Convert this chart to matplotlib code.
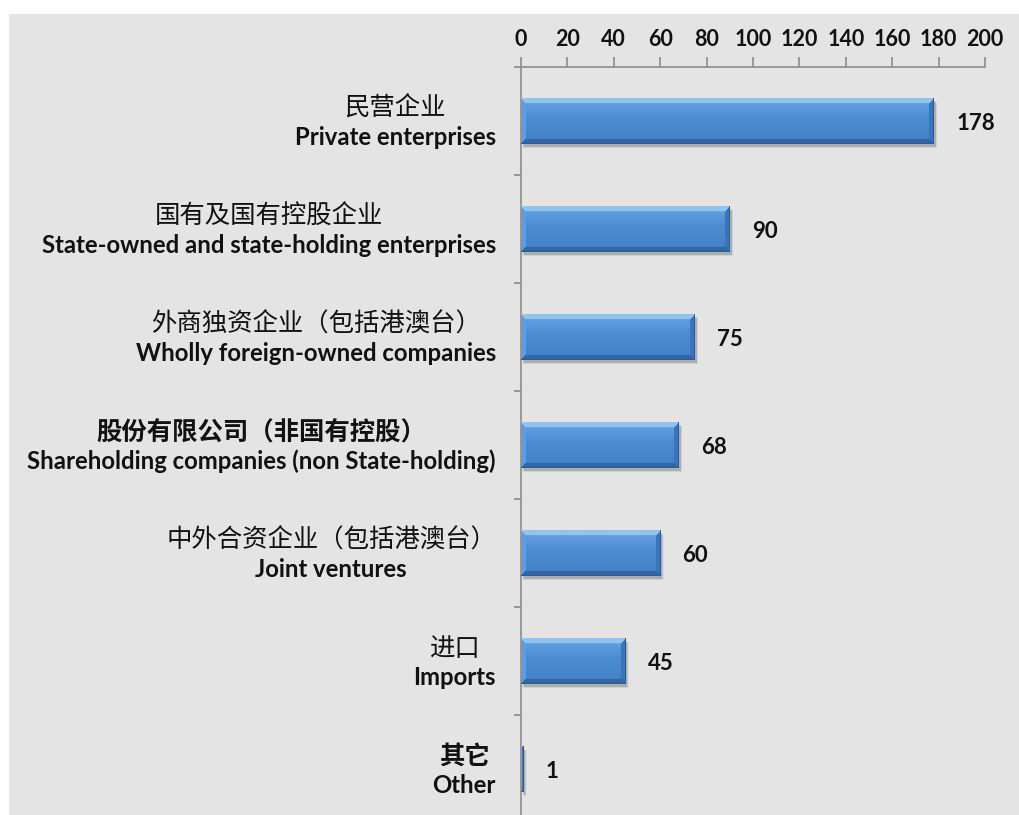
import numpy as np
import matplotlib.pyplot as plt
from matplotlib.patches import Rectangle
from matplotlib.transforms import offset_copy

# Category labels (Chinese / English) and values
labels_cn = ['民营企业', '国有及国有控股企业', '外商独资企业（包括港澳台）',
             '股份有限公司（非国有控股）', '中外合资企业（包括港澳台）', '进口', '其它']
labels_en = ['Private enterprises', 'State-owned and state-holding enterprises',
             'Wholly foreign-owned companies', 'Shareholding companies (non State-holding)',
             'Joint ventures', 'Imports', 'Other']
cn_bold = [False, False, False, True, False, False, True]
values = [178, 90, 75, 68, 60, 45, 1]
xticks = [0, 20, 40, 60, 80, 100, 120, 140, 160, 180, 200]

W, H, DPI = 1020, 815, 100
fig = plt.figure(figsize=(W / DPI, H / DPI), dpi=DPI)
fig.patch.set_facecolor('white')
fig.add_artist(Rectangle((9 / W, 0), 1 - 9 / W, 1 - 14 / H, transform=fig.transFigure,
                         facecolor='#e4e4e4', edgecolor='none', zorder=-10))

ax = fig.add_axes([521 / W, 1 - 823 / H, 464 / W, (823 - 67) / H])
ax.set_facecolor('none')

ypos = np.arange(len(values))
bar_h = 0.42
bars = ax.barh(ypos, values, height=bar_h, color='#4a8bd0', zorder=3)

ax.set_xlim(0, 200)
ax.set_ylim(len(values) - 0.5, -0.5)

# soft drop shadow under each bar
for b in bars:
    for k, a in enumerate([0.10, 0.07, 0.05, 0.03]):
        tr = offset_copy(ax.transData, fig=fig, x=2 + k * 0.5, y=-3 - k * 0.5, units='dots')
        ax.add_patch(Rectangle((b.get_x(), b.get_y()), b.get_width(), b.get_height(),
                               transform=tr, facecolor='black', alpha=a, edgecolor='none',
                               zorder=2))


def hex2rgb(h):
    h = h.lstrip('#')
    return np.array([int(h[i:i + 2], 16) for i in (0, 2, 4)]) / 255.0


# bevelled fill for each bar
top_c = hex2rgb('#8fc5f2')
left_c = hex2rgb('#5f9de0')
right_c = hex2rgb('#3e74b4')
bot_c = hex2rgb('#3566a2')
in_top = hex2rgb('#66a6e4')
in_mid = hex2rgb('#4b8cd2')
in_bot = hex2rgb('#4380c4')
px_x = 464 / 200.0
px_y = 108.0
bev = 5
for b in bars:
    wpx = max(int(round(b.get_width() * px_x)), 2)
    hpx = int(round(b.get_height() * px_y))
    rr, cc = np.mgrid[0:hpx, 0:wpx]
    dt, db = rr, hpx - 1 - rr
    dl, dr = cc, wpx - 1 - cc
    img = np.zeros((hpx, wpx, 3))
    t = (rr / (hpx - 1))[..., None]
    interior = np.where(t < 0.45, in_top + (in_mid - in_top) * (t / 0.45),
                        in_mid + (in_bot - in_mid) * ((t - 0.45) / 0.55))
    img[:] = interior
    dmin = np.minimum(np.minimum(dt, db), np.minimum(dl, dr))
    edge = dmin < bev
    which = np.argmin(np.stack([dt, db, dl, dr]), axis=0)
    for idx, col in enumerate([top_c, bot_c, left_c, right_c]):
        m = edge & (which == idx)
        img[m] = col
    # thin outline
    img[-1, :] = hex2rgb('#2d5a91')
    img[:, -1] = hex2rgb('#2d5a91')
    ax.imshow(img, extent=[b.get_x(), b.get_x() + b.get_width(),
                           b.get_y() + b.get_height(), b.get_y()],
              aspect='auto', interpolation='bilinear', zorder=4)

ax.set_xlim(0, 200)
ax.set_ylim(len(values) - 0.5, -0.5)

# axes styling
axis_col = '#8c8c8c'
for s in ['right', 'bottom']:
    ax.spines[s].set_visible(False)
for s in ['top', 'left']:
    ax.spines[s].set_color(axis_col)
    ax.spines[s].set_linewidth(1.2)
ax.xaxis.tick_top()
ax.set_xticks(xticks)
ax.set_xticklabels([str(v) for v in xticks])
ax.tick_params(axis='x', direction='out', length=7, width=1.2, color=axis_col, pad=5)
for lab in ax.get_xticklabels():
    lab.set_fontfamily(['Lato', 'DejaVu Sans'])
    lab.set_fontweight('bold')
    lab.set_fontsize(15.5)
    lab.set_color('#111111')
ax.set_yticks([])
ax.set_yticks(np.arange(-0.5, len(values) + 0.5, 1), minor=True)
ax.tick_params(axis='y', which='minor', direction='out', length=5, width=1.2, color=axis_col)

# value labels
for i, v in enumerate(values):
    ax.annotate(str(v), xy=(v, i), xytext=(16, -2), textcoords='offset points',
                ha='left', va='center', fontsize=16, fontweight='bold',
                family=['Lato', 'DejaVu Sans'], color='#111111', zorder=5)

# two-line category labels, centred as a block and right-aligned at the axis
right_off = -18
cn_texts, en_texts = [], []
for i in range(len(values)):
    tc = ax.annotate(labels_cn[i], xy=(0, i), xytext=(right_off, 9),
                     textcoords='offset points', ha='right', va='center',
                     fontsize=18.3, fontweight='bold' if cn_bold[i] else 'normal',
                     family=['Noto Sans CJK SC', 'DejaVu Sans'], color='#111111',
                     annotation_clip=False)
    te = ax.annotate(labels_en[i], xy=(0, i), xytext=(right_off, -12),
                     textcoords='offset points', ha='right', va='center',
                     fontsize=17.2, fontweight='bold',
                     family=['Lato', 'DejaVu Sans'], color='#111111',
                     annotation_clip=False)
    cn_texts.append(tc)
    en_texts.append(te)

fig.canvas.draw()
r = fig.canvas.get_renderer()
for tc, te in zip(cn_texts, en_texts):
    wc = tc.get_window_extent(r).width
    we = te.get_window_extent(r).width
    wm = max(wc, we)
    for t, w in [(tc, wc), (te, we)]:
        x, y = t.xyann
        t.xyann = (right_off - (wm - w) / 2 * 72 / DPI, y)

fig.savefig('out.png', dpi=DPI)
